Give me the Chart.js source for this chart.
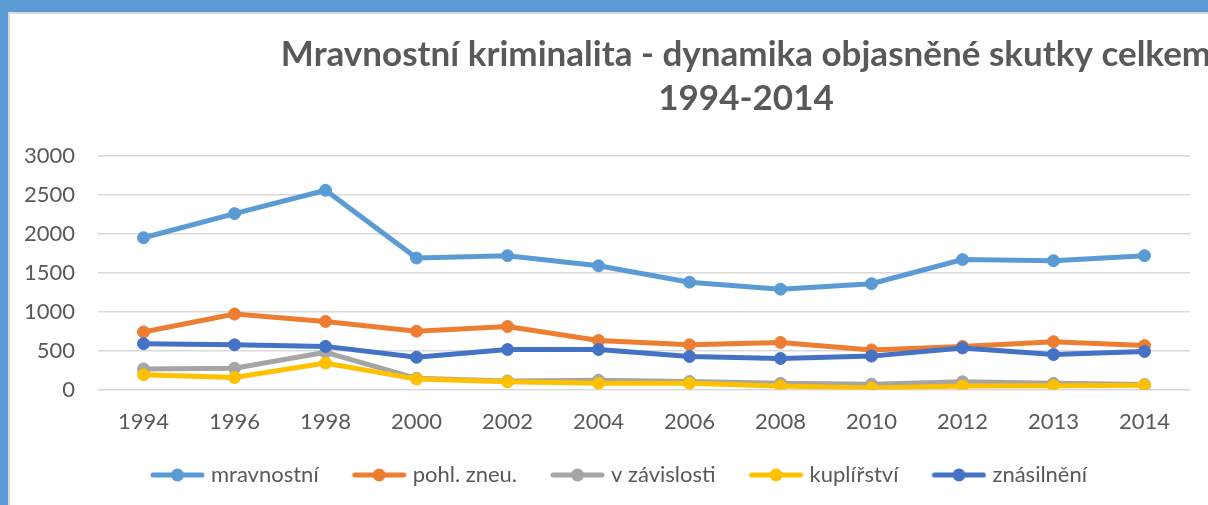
<!DOCTYPE html>
<html>
<head>
<meta charset="utf-8">
<script src="https://cdn.jsdelivr.net/npm/chart.js@4.4.0/dist/chart.umd.min.js"></script>
<style>
  html, body { margin: 0; padding: 0; overflow: hidden; }
  body { background: #5B9BD5; width: 1208px; height: 505px; position: relative; }
  #frame {
    position: absolute; left: 8px; top: 12px; width: 1200px; height: 493px;
    background: #fff; border-left: 2px solid #d9d9d9; border-top: 2px solid #d9d9d9;
  }
  #wrap { position: absolute; left: 0; top: 0; width: 1198px; height: 491px; }
</style>
</head>
<body>
<div id="frame"><div id="wrap"><canvas id="myChart"></canvas></div></div>
<script>
const years = ['1994', '1996', '1998', '2000', '2002', '2004', '2006', '2008', '2010', '2012', '2013', '2014'];
const mravnostni = [1950, 2260, 2560, 1690, 1720, 1590, 1380, 1290, 1360, 1670, 1655, 1720];
const pohlZneu = [740, 970, 875, 750, 810, 630, 575, 605, 510, 555, 615, 565];
const vZavislosti = [265, 275, 480, 145, 110, 120, 105, 80, 70, 100, 80, 65];
const kuplirstvi = [190, 155, 340, 135, 100, 80, 80, 45, 20, 45, 50, 55];
const znasilneni = [590, 575, 555, 415, 515, 515, 425, 400, 430, 535, 450, 490];

const seriesNames = ['mravnostní', 'pohl. zneu.', 'v závislosti', 'kuplířství', 'znásilnění'];
const seriesColors = ['#5B9BD5', '#ED7D31', '#A5A5A5', '#FFC000', '#4472C4'];
const seriesData = [mravnostni, pohlZneu, vZavislosti, kuplirstvi, znasilneni];

const titleLines = ['Mravnostní kriminalita - dynamika objasněné skutky celkem', '1994-2014'];

const textColor = '#595959';
const fontFamily = 'Lato, "Open Sans", sans-serif';

// legend sample: line with a dot like excel, drawn in the right part of the image
// so it sits close to its text
function legendIcon(color) {
  const c = document.createElement('canvas');
  c.width = 83; c.height = 16;
  const g = c.getContext('2d');
  g.strokeStyle = color;
  g.lineWidth = 5;
  g.lineCap = 'round';
  g.beginPath(); g.moveTo(31, 8); g.lineTo(80, 8); g.stroke();
  g.fillStyle = color;
  g.beginPath(); g.arc(55.5, 8, 6.5, 0, Math.PI * 2); g.fill();
  return c;
}

const titlePlugin = {
  id: 'excelTitle',
  afterDraw(chart) {
    const ctx = chart.ctx;
    ctx.save();
    ctx.fillStyle = textColor;
    ctx.font = 'bold 35px ' + fontFamily;
    ctx.textAlign = 'center';
    ctx.textBaseline = 'alphabetic';
    ctx.fillText(titleLines[0], 736, 52);
    ctx.fillText(titleLines[1], 736, 96);
    ctx.restore();
  }
};

const datasets = seriesData.map((d, i) => ({
  label: seriesNames[i],
  data: d,
  borderColor: seriesColors[i],
  backgroundColor: seriesColors[i],
  pointBackgroundColor: seriesColors[i],
  pointBorderColor: seriesColors[i],
  borderWidth: 5,
  pointRadius: 6,
  pointBorderWidth: 1,
  tension: 0,
  order: seriesData.length - i
}));

const myChartRef = document.getElementById('myChart').getContext('2d');

new Chart(myChartRef, {
  type: 'line',
  data: {
    labels: years,
    datasets: datasets
  },
  options: {
    responsive: true,
    maintainAspectRatio: false,
    animation: false,
    layout: { padding: { top: 142, left: 14, right: 18, bottom: 9 } },
    scales: {
      x: {
        offset: true,
        grid: { display: false, drawTicks: false },
        border: { display: false },
        ticks: { color: textColor, font: { family: fontFamily, size: 22 }, padding: 19, maxRotation: 0 }
      },
      y: {
        min: 0,
        max: 3000,
        grid: { color: '#D9D9D9', lineWidth: 1.5, drawTicks: false },
        border: { display: false },
        ticks: {
          stepSize: 500, color: textColor, font: { family: fontFamily, size: 22 }, padding: 23,
          callback: (v) => String(v)
        },
        afterFit(scale) { scale.width -= 23; }
      }
    },
    plugins: {
      title: { display: false },
      tooltip: { enabled: false },
      legend: {
        position: 'bottom',
        labels: {
          usePointStyle: true,
          pointStyleWidth: 73,
          padding: 10,
          color: textColor,
          font: { family: fontFamily, size: 22 },
          sort: (a, b) => a.datasetIndex - b.datasetIndex,
          generateLabels(chart) {
            const items = Chart.defaults.plugins.legend.labels.generateLabels(chart);
            items.forEach(it => { it.pointStyle = legendIcon(seriesColors[it.datasetIndex]); });
            return items;
          }
        }
      }
    }
  },
  plugins: [titlePlugin]
});
</script>
</body>
</html>
